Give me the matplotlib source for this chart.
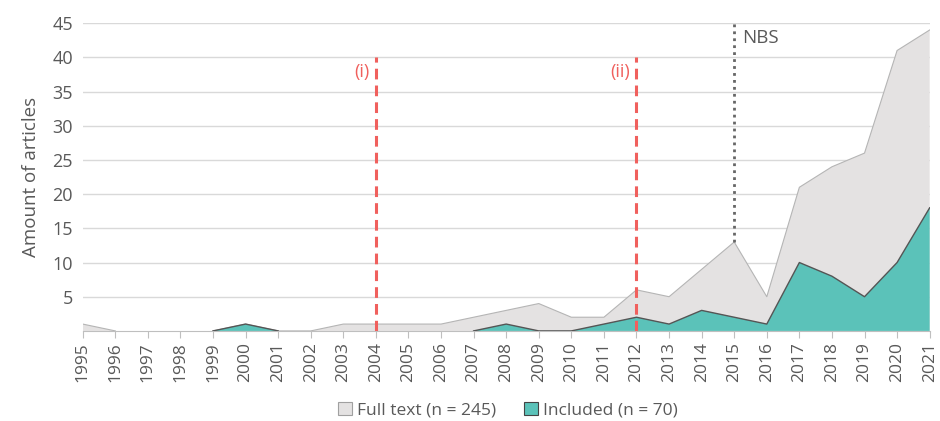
import numpy as np
import matplotlib
matplotlib.use("Agg")
import matplotlib.pyplot as plt
from matplotlib.patches import Patch

years = list(range(1995, 2022))
full_text = [1, 0, 0, 0, 0, 1, 0, 0, 1, 1, 1, 1, 2, 3, 4, 2, 2, 6, 5, 9, 13, 5, 21, 24, 26, 41, 44]
included = [0, 0, 0, 0, 0, 1, 0, 0, 0, 0, 0, 0, 0, 1, 0, 0, 1, 2, 1, 3, 2, 1, 10, 8, 5, 10, 18]
legend_labels = ["Full text (n = 245)", "Included (n = 70)"]

red_marks = [(2004, "(i)"), (2012, "(ii)")]
nbs_year = 2015

plt.rcParams['font.family'] = ['Open Sans', 'DejaVu Sans']
txt = '#595959'
grey_fill = '#e4e2e2'
teal = '#5bc2b9'
red = '#f0605d'


def outline(vals):
    # hide the edge where the series lies flat on zero
    v = np.array(vals, dtype=float)
    nz = v > 0
    keep = nz.copy()
    keep[1:] |= nz[:-1]
    keep[:-1] |= nz[1:]
    return np.where(keep, v, np.nan)


fig = plt.figure(figsize=(9.4, 4.21), dpi=100)
ax = fig.add_axes([0.088, 0.214, 0.901, 0.731])

for y in range(5, 50, 5):
    ax.axhline(y, color='#d9d9d9', lw=1, zorder=0)

ax.fill_between(years, full_text, facecolor=grey_fill, lw=0, zorder=1)
ax.plot(years, outline(full_text), color='#b5b5b5', lw=0.8, zorder=2)
ax.fill_between(years, included, facecolor=teal, lw=0, zorder=3)
ax.plot(years, outline(included), color='#555555', lw=1.0, zorder=4)

for yr, lab in red_marks:
    ax.plot([yr, yr], [0, 40], color=red, lw=2.2, ls=(0, (3.5, 2)), zorder=5)
    ax.text(yr - 0.2, 37.9, lab, color=red, fontsize=13, ha='right', va='center')

nbs_val = full_text[years.index(nbs_year)]
ax.plot([nbs_year, nbs_year], [nbs_val, 45], color='#666666', lw=2, ls=(0, (1, 1.5)), zorder=5)
ax.text(nbs_year + 0.25, 42.9, "NBS", color=txt, fontsize=13.5, ha='left', va='center')

ax.set_xlim(1995, 2021)
ax.set_ylim(0, 45)
ax.set_yticks(range(5, 50, 5))
ax.set_xticks(years)
ax.set_xticklabels([str(y) for y in years], rotation=90)
ax.tick_params(axis='y', length=0, labelsize=13, labelcolor=txt, pad=7)
ax.tick_params(axis='x', length=5, color='#bfbfbf', labelsize=12.5, labelcolor=txt, pad=3)
for s in ['top', 'right', 'left']:
    ax.spines[s].set_visible(False)
ax.spines['bottom'].set_color('#bfbfbf')
ax.set_ylabel("Amount of articles", fontsize=13.5, color=txt, labelpad=9)

handles = [Patch(facecolor=grey_fill, edgecolor='#a0a0a0', lw=0.8),
           Patch(facecolor=teal, edgecolor='#444444', lw=0.8)]
ax.legend(handles, legend_labels, loc='center', bbox_to_anchor=(0.54, 0.026),
          bbox_transform=fig.transFigure, ncol=2, frameon=False, fontsize=12.5,
          labelcolor=txt, handlelength=0.8, handleheight=0.8,
          handletextpad=0.3, columnspacing=1.6)

fig.savefig("out.png", dpi=100)
